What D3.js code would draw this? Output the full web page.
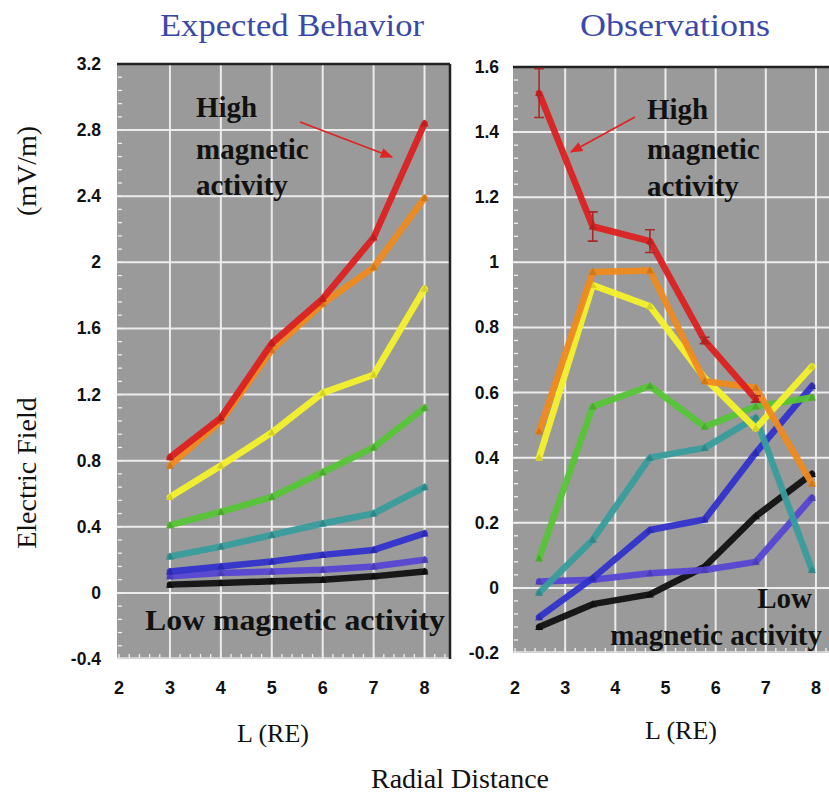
<!DOCTYPE html>
<html><head><meta charset="utf-8">
<script src="https://cdn.jsdelivr.net/npm/d3@7"></script>
<style>body{margin:0;background:#fff}svg{display:block}</style>
</head><body>
<svg id="c" width="829" height="796"></svg>
<script>
// ---------- data ----------
const seriesNames = ["red","orange","yellow","green","teal","blue","violet","black"];
const seriesColors = ["#dc2020","#ef8a1e","#f6f22c","#56c436","#389c9c","#3232cc","#5646d4","#111111"];

const leftX = [3,4,5,6,7,8];
const leftRed    = [0.82,1.06,1.51,1.78,2.15,2.84];
const leftOrange = [0.77,1.04,1.47,1.75,1.97,2.39];
const leftYellow = [0.58,0.77,0.97,1.21,1.32,1.84];
const leftGreen  = [0.41,0.49,0.58,0.73,0.88,1.12];
const leftTeal   = [0.22,0.28,0.35,0.42,0.48,0.64];
const leftBlue   = [0.13,0.16,0.19,0.23,0.26,0.36];
const leftViolet = [0.10,0.12,0.13,0.14,0.16,0.20];
const leftBlack  = [0.05,0.06,0.07,0.08,0.10,0.13];

const rightX = [2.48,3.55,4.69,5.78,6.8,7.92];
const rightRed    = [1.52,1.11,1.065,0.76,0.58];
const rightOrange = [0.48,0.97,0.975,0.635,0.615,0.32];
const rightYellow = [0.40,0.93,0.865,0.645,0.49,0.68];
const rightGreen  = [0.09,0.557,0.62,0.495,0.557,0.585];
const rightTeal   = [-0.015,0.148,0.40,0.43,0.523,0.055];
const rightBlue   = [-0.09,0.03,0.178,0.21,0.415,0.62];
const rightViolet = [0.02,0.025,0.045,0.055,0.08,0.277];
const rightBlack  = [-0.12,-0.05,-0.02,0.065,0.22,0.35];
const rightRedErr = [0.075,0.045,0.035,0.01,0.01];

const leftYTicks = [-0.4,0,0.4,0.8,1.2,1.6,2,2.4,2.8,3.2];
const rightYTicks = [-0.2,0,0.2,0.4,0.6,0.8,1,1.2,1.4,1.6];
const xTicks = [2,3,4,5,6,7,8];

const leftSeries = [leftRed,leftOrange,leftYellow,leftGreen,leftTeal,leftBlue,leftViolet,leftBlack];
const rightSeries = [rightRed,rightOrange,rightYellow,rightGreen,rightTeal,rightBlue,rightViolet,rightBlack];

// ---------- drawing ----------
const svg = d3.select("#c");
const defs = svg.append("defs");
defs.append("marker").attr("id","arr").attr("viewBox","0 0 10 10").attr("refX",9).attr("refY",5)
  .attr("markerWidth",7).attr("markerHeight",7).attr("orient","auto-start-reverse")
  .append("path").attr("d","M0,1 L10,5 L0,9 z").attr("fill","#e02424");

const sans = "'Liberation Sans', Arial, sans-serif";
const serif = "'Liberation Serif', 'Times New Roman', serif";
const fmt = d => d3.format("~g")(d).replace("\u2212","-");

function panel(cfg){
  const x = d3.scaleLinear().domain(cfg.xd).range(cfg.xr);
  const y = d3.scaleLinear().domain(cfg.yd).range(cfg.yr);
  const g = svg.append("g");
  const [x0,x1]=cfg.xr, [y0,y1]=cfg.yr;
  g.append("rect").attr("x",x0).attr("y",y1).attr("width",x1-x0).attr("height",y0-y1).attr("fill","#9a9a9a");
  g.selectAll(".vg").data(cfg.xGrid).join("line").attr("x1",d=>x(d)).attr("x2",d=>x(d))
    .attr("y1",y1).attr("y2",y0).attr("stroke","#ececec").attr("stroke-width",2);
  g.selectAll(".hg").data(cfg.yTicks.slice(1,-1)).join("line").attr("y1",d=>y(d)).attr("y2",d=>y(d))
    .attr("x1",x0).attr("x2",x1).attr("stroke","#ececec").attr("stroke-width",2);
  const yMin = d3.range(cfg.yd[0], cfg.yd[1]+1e-9, cfg.yMinor);
  g.selectAll(".ym").data(yMin).join("line").attr("y1",d=>y(d)).attr("y2",d=>y(d))
    .attr("x1",x0+1).attr("x2",x0+5).attr("stroke","#f2f2f2").attr("stroke-width",1.3);
  const xMin = d3.range(2, cfg.xd[1], 0.2);
  g.selectAll(".xm").data(xMin).join("line").attr("x1",d=>x(d)).attr("x2",d=>x(d))
    .attr("y1",y0-1).attr("y2",y0-5).attr("stroke","#f2f2f2").attr("stroke-width",1.3);
  g.append("line").attr("x1",x0).attr("x2",x1).attr("y1",y0-1).attr("y2",y0-1).attr("stroke","#e4e4e4").attr("stroke-width",1.5);
  g.append("line").attr("x1",x0).attr("x2",x1).attr("y1",y1).attr("y2",y1).attr("stroke","#222").attr("stroke-width",2.5);
  if(cfg.rightBorder) g.append("line").attr("x1",x1).attr("x2",x1).attr("y1",y1).attr("y2",y0).attr("stroke","#222").attr("stroke-width",2.5);
  const line = d3.line().x(d=>x(d[0])).y(d=>y(d[1]));
  const order = [7,6,5,4,3,2,1,0];
  order.forEach(i=>{
    const vals = cfg.series[i];
    const pts = vals.map((v,j)=>[cfg.xs[j],v]);
    g.append("path").attr("d",line(pts)).attr("fill","none").attr("stroke",seriesColors[i])
      .attr("stroke-width",cfg.sw).attr("stroke-linejoin","round").attr("stroke-linecap","round").attr("opacity",0.95);
    g.selectAll(null).data(pts).join("path")
      .attr("d",d=>`M${x(d[0])-4},${y(d[1])+3} L${x(d[0])},${y(d[1])-4} L${x(d[0])+4},${y(d[1])+3} Z`)
      .attr("fill",d3.color(seriesColors[i]).darker(0.4));
  });
  if(cfg.err){
    const pts = cfg.series[0].map((v,j)=>[cfg.xs[j],v,cfg.err[j]]);
    g.selectAll(null).data(pts).join("path")
      .attr("d",d=>{const xx=x(d[0]),ya=y(d[1]+d[2]),yb=y(d[1]-d[2]);return `M${xx},${ya}V${yb}M${xx-5},${ya}H${xx+5}M${xx-5},${yb}H${xx+5}`;})
      .attr("stroke","#a82828").attr("stroke-width",1.6).attr("fill","none");
  }
  svg.selectAll(null).data(cfg.yTicks).join("text").attr("x",cfg.yLabX).attr("y",d=>y(d)+6)
    .attr("text-anchor","end").attr("font-family",sans).attr("font-weight","bold")
    .attr("font-size",17.5).attr("fill","#111").text(fmt);
  svg.selectAll(null).data(xTicks).join("text").attr("x",d=>x(d)).attr("y",cfg.xLabY)
    .attr("text-anchor","middle").attr("font-family",sans).attr("font-weight","bold")
    .attr("font-size",18).attr("fill","#111").text(d=>d);
  return {x,y};
}

panel({xd:[1.96,8.5],xr:[117,450],yd:[-0.4,3.2],yr:[659,64],xGrid:[3,4,5,6,7,8],yTicks:leftYTicks,yMinor:0.08,
  series:leftSeries,xs:leftX,sw:6.5,yLabX:101,xLabY:694,rightBorder:true});
panel({xd:[1.96,8.26],xr:[513,829],yd:[-0.2,1.6],yr:[653,67],xGrid:[3,4,5,6,7,8],yTicks:rightYTicks,yMinor:0.04,
  series:rightSeries,xs:rightX,sw:6.5,yLabX:499,xLabY:694,rightBorder:false,err:rightRedErr});

function txt(x,y,s,size,opts={}){
  const t = svg.append("text").attr("x",x).attr("y",y).attr("font-family",serif).attr("font-size",size)
    .attr("fill",opts.fill||"#111").attr("font-weight",opts.bold?"bold":"normal")
    .attr("text-anchor",opts.anchor||"start").text(s);
  if(opts.tl) t.attr("textLength",opts.tl).attr("lengthAdjust","spacingAndGlyphs");
  if(opts.rot) t.attr("transform",`rotate(-90,${x},${y})`);
  return t;
}
txt(292,36,"Expected Behavior",31,{fill:"#3a48a8",anchor:"middle",tl:264});
txt(675,36,"Observations",31,{fill:"#3a48a8",anchor:"middle",tl:190});
txt(273,742,"L (RE)",26,{anchor:"middle"});
txt(681,739,"L (RE)",26,{anchor:"middle"});
txt(460,788,"Radial Distance",28,{anchor:"middle"});
txt(36,473,"Electric Field",28,{anchor:"middle",rot:true});
txt(36,171,"(mV/m)",28,{anchor:"middle",rot:true});

txt(196,117,"High",29,{bold:true});
txt(196,159,"magnetic",29,{bold:true});
txt(196,195,"activity",29,{bold:true});
txt(145,630,"Low magnetic activity",29,{bold:true,tl:300});

txt(647,119,"High",29,{bold:true});
txt(647,159,"magnetic",29,{bold:true});
txt(647,196,"activity",29,{bold:true});
txt(812,608,"Low",29,{bold:true,anchor:"end"});
txt(822,645,"magnetic activity",29,{bold:true,anchor:"end"});

svg.append("line").attr("x1",300).attr("y1",122).attr("x2",392).attr("y2",157)
  .attr("stroke","#e02424").attr("stroke-width",1.8).attr("marker-end","url(#arr)");
svg.append("line").attr("x1",635).attr("y1",117).attr("x2",571).attr("y2",152)
  .attr("stroke","#e02424").attr("stroke-width",1.8).attr("marker-end","url(#arr)");
</script>
</body></html>
